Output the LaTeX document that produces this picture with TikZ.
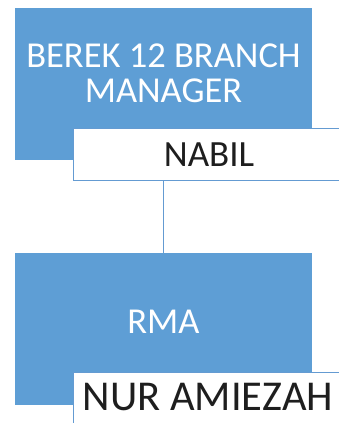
\documentclass[tikz,border=0pt]{standalone}
\usepackage{fontspec}
\setmainfont{Carlito}
\usepackage{tikz}
\definecolor{boxblue}{RGB}{94,158,213}
\definecolor{edgeblue}{RGB}{100,155,210}
\definecolor{nameink}{RGB}{30,30,30}
\usetikzlibrary{positioning,calc}

\tikzset{
    rolebox/.style={fill=boxblue, draw=none, minimum width=297pt, minimum height=152pt, inner sep=0pt},
    namebox/.style={fill=white, draw=edgeblue, line width=0.8pt, minimum width=268pt, minimum height=52pt, inner sep=0pt, anchor=north west},
    roletext/.style={text=white, font=\fontsize{36.5}{35}\selectfont, align=center},
    nametext/.style={text=nameink, font=\fontsize{37}{40}\selectfont}
}

\begin{document}
\begin{tikzpicture}[x=1pt,y=1pt]
        \useasboundingbox (0,0) rectangle (339,423);
        \begin{scope}
            \clip (0,0) rectangle (339,423);
            \node[rolebox] (manager) at (163.5,339) {};
            \node[rolebox] (rma) at (163.5,94) {};
            \node[namebox] (nabil) at (73,295) {};
            \node[namebox, minimum height=56pt] (nur) at (73,51) {};
        \end{scope}
        \draw[edgeblue, line width=0.8pt] (nabil.south -| rma.north) -- (rma.north);

        \node[roletext] (managertext) at ($(manager)+(0,11)$) {BEREK 12 BRANCH\\MANAGER};
        \node[roletext] (rmatext) at (163.5,101) {RMA};
        \node[nametext] (nabiltext) at (209,268) {NABIL};
        \node[nametext, font=\fontsize{42.5}{44}\selectfont] (nurtext) at (208,26) {NUR AMIEZAH};
    \end{tikzpicture}
\end{document}
